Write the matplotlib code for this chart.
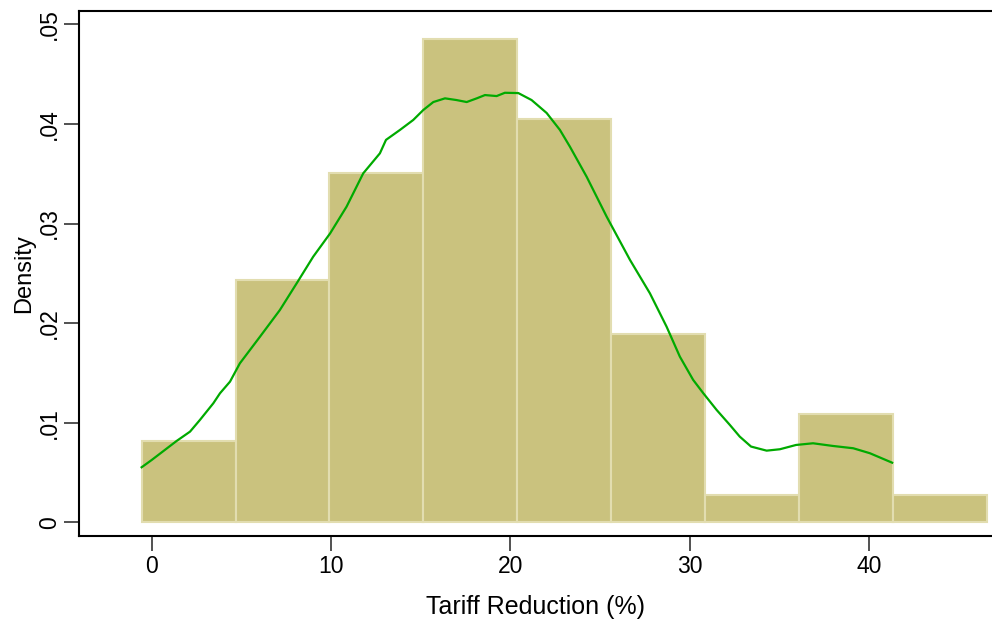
import numpy as np
import matplotlib
matplotlib.use('Agg')
import matplotlib.pyplot as plt

# histogram bins (tariff reduction, %) and density heights
bin_edges = [-0.56, 4.68, 9.91, 15.15, 20.39, 25.62, 30.86, 36.10, 41.33, 46.57]
bin_density = [0.00819, 0.0243, 0.0351, 0.0485, 0.0405, 0.0189, 0.00274, 0.01087, 0.00274]

# kernel density curve
kde_x = [-0.56, 0.0, 1.39, 2.14, 2.69, 3.44, 3.81, 4.37, 4.92, 6.04, 7.15, 8.09,
         9.01, 9.95, 10.87, 11.8, 12.73, 13.07, 13.85, 14.59, 15.15, 15.71, 16.36,
         17.0, 17.57, 18.13, 18.59, 19.24, 19.7, 20.45, 21.19, 22.03, 22.77, 23.33,
         24.26, 25.38, 26.68, 27.79, 28.72, 29.46, 30.2, 30.77, 31.51, 32.25, 32.8,
         33.43, 34.3, 35.04, 35.94, 36.89, 38.0, 39.13, 40.06, 41.3]
kde_y = [0.00552, 0.00625, 0.00816, 0.0091, 0.01027, 0.01195, 0.01295, 0.01412,
         0.01596, 0.01863, 0.02131, 0.024, 0.02667, 0.029, 0.03169, 0.03504, 0.03705,
         0.0384, 0.0394, 0.0404, 0.0414, 0.0422, 0.04257, 0.0424, 0.0422, 0.04257,
         0.0429, 0.0428, 0.04313, 0.0431, 0.0424, 0.0411, 0.0394, 0.03771, 0.0347,
         0.03068, 0.02634, 0.02299, 0.01964, 0.01663, 0.0143, 0.01295, 0.01128,
         0.00977, 0.0086, 0.0076, 0.00719, 0.00733, 0.00776, 0.00793, 0.00766,
         0.00743, 0.00693, 0.00598]

y_ticks = [0, 0.01, 0.02, 0.03, 0.04, 0.05]
y_labels = ['0', '.01', '.02', '.03', '.04', '.05']
x_ticks = [0, 10, 20, 30, 40]

plt.rcParams['font.family'] = ['Liberation Sans', 'DejaVu Sans']

fig = plt.figure(figsize=(9.92, 6.2), dpi=100)
ax = fig.add_axes([0.0796, 0.136, 0.9204, 0.8467])

edges = np.array(bin_edges)
ax.bar(edges[:-1], bin_density, width=np.diff(edges), align='edge',
       color='#cac27e', edgecolor='#e2ddb0', linewidth=1.5, zorder=2)
ax.plot(kde_x, kde_y, color='#00aa00', linewidth=1.6, zorder=3)

ax.set_xlim(-4.055, 46.87)
ax.set_ylim(-0.00135, 0.05137)

ax.set_xticks(x_ticks)
ax.set_yticks(y_ticks)
ax.set_yticklabels(y_labels, rotation=90, va='center')
ax.tick_params(axis='both', direction='out', length=11, width=1.2,
               color='#333333', labelsize=16.5)
ax.tick_params(axis='x', pad=3)
ax.tick_params(axis='y', pad=2)

ax.spines['right'].set_visible(False)
for s in ['left', 'top', 'bottom']:
    ax.spines[s].set_linewidth(1.5)
    ax.spines[s].set_color('black')

ax.set_xlabel('Tariff Reduction (%)', fontsize=18, labelpad=12)
ax.set_ylabel('Density', fontsize=17, labelpad=2)

fig.savefig('out.png', dpi=100, facecolor='white')
